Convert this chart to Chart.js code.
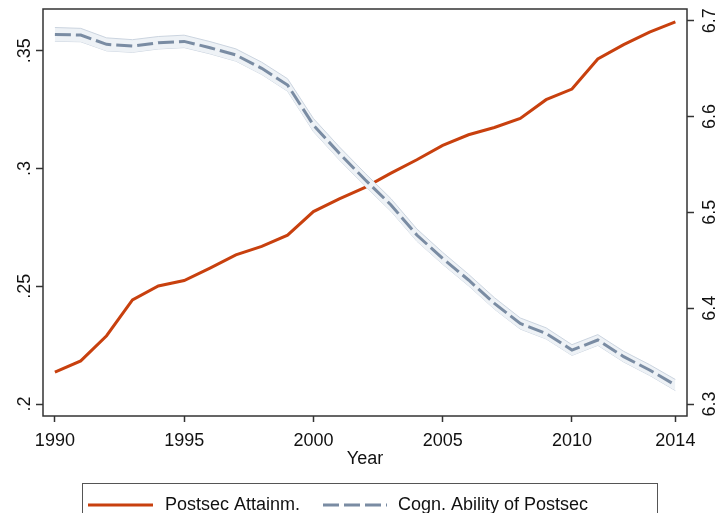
<!DOCTYPE html>
<html>
<head>
<meta charset="utf-8">
<script src="https://cdn.jsdelivr.net/npm/chart.js@4.4.1/dist/chart.umd.min.js"></script>
<style>
  html, body { margin: 0; padding: 0; background: #fff; }
  #wrap { width: 721px; height: 513px; position: relative; }
</style>
</head>
<body>
<div id="wrap"><canvas id="chart"></canvas></div>
<script>
const years = [1990, 1991, 1992, 1993, 1994, 1995, 1996, 1997, 1998, 1999, 2000, 2001, 2002,
               2003, 2004, 2005, 2006, 2007, 2008, 2009, 2010, 2011, 2012, 2013, 2014];
const postsecAttainm = [0.2135, 0.2183, 0.2290, 0.2442, 0.2501, 0.2524, 0.2577, 0.2633, 0.2669, 0.2717,
                        0.2817, 0.2871, 0.2920, 0.2980, 0.3037, 0.3098, 0.3143, 0.3174, 0.3212, 0.3292,
                        0.3337, 0.3465, 0.3526, 0.3579, 0.3622];
const cognAbility = [6.6857, 6.6850, 6.6753, 6.6736, 6.6770, 6.6784, 6.6718, 6.6642, 6.6503, 6.6329,
                     6.5911, 6.5616, 6.5340, 6.5077, 6.4763, 6.4520, 6.4294, 6.4050, 6.3840, 6.3737,
                     6.3563, 6.3668, 6.3494, 6.3355, 6.3198];
// confidence band of the cognitive ability series
const cognHigh = [6.6929, 6.6920, 6.6821, 6.6802, 6.6835, 6.6849, 6.6782, 6.6706, 6.6567, 6.6394,
                  6.5979, 6.5684, 6.5408, 6.5143, 6.4827, 6.4582, 6.4354, 6.4110, 6.3898, 6.3795,
                  6.3619, 6.3724, 6.3550, 6.3411, 6.3256];
const cognLow = [6.6785, 6.6780, 6.6685, 6.6670, 6.6705, 6.6719, 6.6654, 6.6578, 6.6439, 6.6264,
                 6.5843, 6.5548, 6.5272, 6.5011, 6.4699, 6.4458, 6.4234, 6.3990, 6.3782, 6.3679,
                 6.3507, 6.3612, 6.3438, 6.3299, 6.3140];

const xTicks = [1990, 1995, 2000, 2005, 2010, 2014];
const leftTicks = [0.2, 0.25, 0.3, 0.35];
const leftTickLabels = ['.2', '.25', '.3', '.35'];
const rightTicks = [6.3, 6.4, 6.5, 6.6, 6.7];
const rightTickLabels = ['6.3', '6.4', '6.5', '6.6', '6.7'];
const legendLabels = ['Postsec Attainm.', 'Cogn. Ability of Postsec'];

const RED = '#c8400e';
const BLUE = '#7a8ca3';
const DASH = [16, 5];
const AXIS = '#333333';

const pts = arr => years.map((yr, i) => ({ x: yr, y: arr[i] }));

Chart.defaults.font.family = '"Liberation Sans", Arial, sans-serif';
Chart.defaults.font.size = 18;
Chart.defaults.color = '#111';

// plot frame and the boxed legend under the axis
const frameAndLegend = {
    id: 'frameAndLegend',
    afterDraw(chart) {
        const { ctx, chartArea: a } = chart;
        ctx.save();
        ctx.strokeStyle = AXIS;
        ctx.lineWidth = 1.5;
        ctx.strokeRect(a.left, a.top, a.right - a.left, a.bottom - a.top);

        ctx.strokeStyle = '#555';
        ctx.lineWidth = 1;
        ctx.strokeRect(82.5, 483.5, 575, 40);

        const y = 505;
        ctx.lineWidth = 3;
        ctx.strokeStyle = RED;
        ctx.beginPath(); ctx.moveTo(88, y); ctx.lineTo(153, y); ctx.stroke();
        ctx.strokeStyle = BLUE;
        ctx.setLineDash(DASH);
        ctx.beginPath(); ctx.moveTo(323, y); ctx.lineTo(387, y); ctx.stroke();
        ctx.setLineDash([]);

        ctx.fillStyle = '#111';
        ctx.font = '18px "Liberation Sans", Arial, sans-serif';
        ctx.textBaseline = 'middle';
        ctx.fillText(legendLabels[0], 165, y);
        ctx.fillText(legendLabels[1], 398, y);
        ctx.restore();
    }
};

const tickGrid = { drawOnChartArea: false, drawTicks: true, tickLength: 7, tickColor: AXIS, tickWidth: 1.5 };

// keep the plot box where the reference has it: no extra room for end labels
const noEdgePadding = s => {
    s.paddingTop = 0; s.paddingBottom = 0; s.paddingLeft = 0; s.paddingRight = 0;
};

new Chart(document.getElementById('chart'), {
    type: 'line',
    data: {
        datasets: [
            {
                label: legendLabels[1],
                data: pts(cognAbility),
                yAxisID: 'yR',
                borderColor: BLUE,
                borderWidth: 3,
                borderDash: DASH,
                pointRadius: 0,
                fill: false
            },
            {
                label: 'ci high',
                data: pts(cognHigh),
                yAxisID: 'yR',
                borderColor: '#cbd4df',
                borderWidth: 1,
                backgroundColor: '#eef2f6',
                pointRadius: 0,
                fill: '+1'
            },
            {
                label: 'ci low',
                data: pts(cognLow),
                yAxisID: 'yR',
                borderColor: '#cbd4df',
                borderWidth: 1,
                pointRadius: 0,
                fill: false
            },
            {
                label: legendLabels[0],
                data: pts(postsecAttainm),
                yAxisID: 'yL',
                borderColor: RED,
                borderWidth: 3,
                pointRadius: 0,
                fill: false
            }
        ]
    },
    options: {
        responsive: true,
        maintainAspectRatio: false,
        animation: false,
        layout: { padding: { top: 9, bottom: 45, left: 0, right: 0 } },
        plugins: {
            legend: { display: false },
            tooltip: { enabled: false }
        },
        scales: {
            x: {
                type: 'linear',
                min: 1989.54,
                max: 2014.45,
                border: { display: false },
                grid: { ...tickGrid, tickLength: 6 },
                afterBuildTicks: s => { s.ticks = xTicks.map(v => ({ value: v })); },
                afterFit: s => { s.height = 52; noEdgePadding(s); },
                ticks: { padding: 8, callback: v => String(v), maxRotation: 0 },
                title: { display: true, text: 'Year', font: { size: 18, lineHeight: 1 }, padding: 0, color: '#111' }
            },
            yL: {
                position: 'left',
                min: 0.19491,
                max: 0.3677,
                border: { display: false },
                grid: tickGrid,
                afterBuildTicks: s => { s.ticks = leftTicks.map(v => ({ value: v })); },
                afterFit: s => { s.width = 43; noEdgePadding(s); },
                ticks: {
                    minRotation: 90, maxRotation: 90, crossAlign: 'center', padding: -1.5,
                    callback: (v, i) => leftTickLabels[i]
                }
            },
            yR: {
                position: 'right',
                min: 6.28748,
                max: 6.7122,
                border: { display: false },
                grid: tickGrid,
                afterBuildTicks: s => { s.ticks = rightTicks.map(v => ({ value: v })); },
                afterFit: s => { s.width = 34; noEdgePadding(s); },
                ticks: {
                    minRotation: 90, maxRotation: 90, crossAlign: 'center', padding: 4,
                    callback: (v, i) => rightTickLabels[i]
                }
            }
        }
    },
    plugins: [frameAndLegend]
});
</script>
</body>
</html>
